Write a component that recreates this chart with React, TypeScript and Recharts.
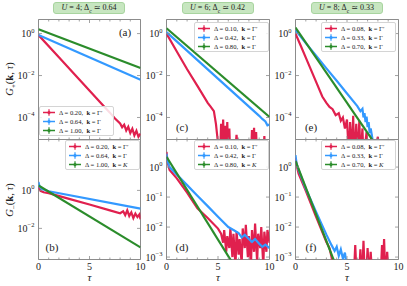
import React from "react";
import { LineChart, Line, XAxis, YAxis, Legend, ReferenceArea } from "recharts";

const RED = "#e0204e";
const BLUE = "#3399ff";
const GREEN = "#2b8c2b";
const AX = "#8c8c8c";
const FONT = "'Liberation Serif', 'DejaVu Serif', serif";

// axes
const tauTicks = [0, 1, 2, 3, 4, 5, 6, 7, 8, 9, 10];
const tauLabels = [0, 5, 10];
const topTicks = [1e-4, 1e-2, 1];
const bTicks = [1e-2, 1];
const dfTicks = [1e-3, 1e-2, 1e-1, 1];
const topDomain = [8.9e-6, 4.7];
const bDomain = [2.3e-4, 479];
const dfDomain = [8.3e-4, 8.3];

// titles
const titleU = ["4", "6", "8"];
const titleDc = ["0.64", "0.42", "0.33"];

// legend entries
const deltaU4 = ["0.20", "0.64", "1.00"];
const deltaU6 = ["0.10", "0.42", "0.80"];
const deltaU8 = ["0.08", "0.33", "0.70"];
const kPlus = ["Γ′", "Γ", "Γ"];
const kMinus = ["Γ′", "Γ", "K"];

// (a) U=4, G+
const aRedTau = [0, 2, 4, 6, 7, 7.5, 8, 8.2, 8.4, 8.6, 8.8, 9, 9.2, 9.4, 9.6, 9.8, 10];
const aRedG = [0.85, 7.4e-2, 6.5e-3, 5.6e-4, 1.7e-4, 9.0e-5, 5.2e-5, 3.4e-5, 4.5e-5, 2.4e-5, 3.6e-5, 1.8e-5, 2.9e-5, 1.4e-5, 2.3e-5, 1.2e-5, 1.7e-5];
const aBlueTau = [0, 10];
const aBlueG = [0.85, 6.3e-3];
const aGreenTau = [0, 10];
const aGreenG = [1.6, 2.3e-2];

// (b) U=4, G-
const bRedTau = [0, 0.2, 0.5, 1, 3, 5, 7, 8, 8.3, 8.5, 8.7, 8.9, 9.1, 9.3, 9.5, 9.7, 9.9, 10];
const bRedG = [1.5, 0.95, 0.8, 0.72, 0.36, 0.18, 0.089, 0.063, 0.08, 0.05, 0.09, 0.045, 0.07, 0.035, 0.06, 0.04, 0.055, 0.03];
const bBlueTau = [0, 0.1, 0.3, 1, 10];
const bBlueG = [2.8, 1.6, 1.2, 0.9, 0.11];
const bGreenTau = [0, 10];
const bGreenG = [1.8, 1.0e-3];

// (c) U=6, G+
const cRedTau = [0, 1, 2, 3, 4, 4.3, 4.6, 4.8, 5.0, 5.2, 5.3, 5.4, 5.5, 5.6, 5.7, 5.8, 5.9, 6.0, 6.1, 6.2, 6.6, 6.8, 7.0, 8.2, 8.3, 8.4, 8.5, 8.6, 8.7, 8.8, 9.4, 9.5, 9.6, 10];
const cRedG = [1.0, 0.14, 2.0e-2, 3.2e-3, 5.0e-4, 3.2e-4, 2.0e-4, 5.0e-5, 6e-6, 1e-6, 5e-5, 2e-6, 8e-5, 1e-6, 4e-5, 1e-6, 6e-5, 1e-6, 3e-5, 1e-6, 1e-6, 1.5e-5, 1e-6, 1e-6, 2.5e-5, 1e-6, 3.2e-5, 1e-6, 2e-5, 1e-6, 1e-6, 1.3e-5, 1e-6, 1e-6];
const cBlueTau = [0, 9, 9.3, 9.6, 9.8, 10];
const cBlueG = [1.17, 1.2e-4, 8.5e-5, 6.5e-5, 4.2e-5, 4.6e-5];
const cGreenTau = [0, 10];
const cGreenG = [1.8, 1.05e-4];

// (d) U=6, G-
const dRedTau = [0, 0.1, 0.3, 1, 2, 3, 4, 5, 5.3, 5.5, 5.6, 5.8, 5.9, 6.1, 6.2, 6.4, 6.5, 6.7, 6.8, 7.0, 7.1, 7.3, 7.4, 7.6, 7.7, 7.9, 8.0, 8.2, 8.3, 8.5, 8.6, 8.8, 8.9, 9.1, 9.2, 9.4, 9.5, 9.7, 9.8, 10];
const dRedG = [3.2, 1.5, 0.8, 0.42, 0.14, 4.2e-2, 2.0e-2, 8.9e-3, 6e-3, 3e-3, 8e-3, 1.5e-3, 5e-3, 2e-3, 9e-3, 1e-3, 6e-3, 5e-4, 7e-3, 1.2e-3, 4e-3, 6e-4, 9e-3, 2e-3, 1.2e-2, 1e-3, 5e-3, 5e-4, 8e-3, 1.5e-3, 1.3e-2, 7e-4, 6e-3, 2e-3, 1e-2, 5e-4, 7e-3, 1.5e-3, 8e-3, 3e-3];
const dBlueTau = [0, 0.1, 0.3, 1, 2, 3, 4, 5, 6, 6.5, 7, 7.3, 7.6, 8, 8.3, 8.6, 9, 9.3, 9.6, 10];
const dBlueG = [2.8, 1.6, 1.0, 0.56, 0.25, 0.11, 5.0e-2, 2.2e-2, 1.0e-2, 8e-3, 6.3e-3, 4.5e-3, 5.5e-3, 4.0e-3, 3.2e-3, 4.0e-3, 2.8e-3, 2.2e-3, 2.6e-3, 2.0e-3];
const dGreenTau = [0, 7];
const dGreenG = [2.2, 3.0e-4];

// (e) U=8, G+
const eRedTau = [0, 0.5, 1, 2, 2.6, 3, 3.3, 3.6, 3.9, 4.2, 4.4, 4.6, 4.8, 5.0, 5.2, 5.3, 5.5, 5.6, 5.7, 5.9, 6.0, 6.2, 6.3, 6.5, 6.6, 6.9, 7.0, 7.4, 7.5, 8.0, 8.1];
const eRedG = [1.0, 0.27, 7.1e-2, 5.0e-3, 1.0e-3, 5.0e-4, 3.2e-4, 2.5e-4, 1.3e-4, 1.6e-4, 7e-5, 1e-4, 3e-5, 8e-5, 1e-6, 6e-5, 2e-6, 1.2e-4, 1e-6, 5e-5, 1e-6, 7e-5, 1e-6, 3e-5, 1e-6, 2e-5, 1e-6, 1.5e-5, 1e-6, 1.2e-5, 1e-6];
const eBlueTau = [0, 1, 2, 3, 4, 5, 6, 6.3, 6.5, 6.6, 6.7, 6.8, 6.9, 7.0, 7.1, 7.2, 7.3, 7.5, 7.6];
const eBlueG = [1.45, 0.35, 8.9e-2, 2.2e-2, 5.6e-3, 1.4e-3, 3.5e-4, 2.0e-4, 2.6e-4, 1.0e-4, 1.6e-4, 6e-5, 1.1e-4, 3.5e-5, 6e-5, 1.8e-5, 3e-5, 8e-6, 2e-6];
const eGreenTau = [0, 8];
const eGreenG = [1.95, 3.5e-6];

// (f) U=8, G-
const fRedTau = [0, 0.1, 0.3, 1, 2, 3, 3.3, 3.5, 3.7, 5.7, 5.8, 5.9, 6.2, 6.3, 6.4, 6.5, 6.6, 6.7, 6.9, 7.0, 7.1, 7.2, 7.3, 7.4, 8.3, 8.4, 8.5, 8.6, 8.7, 8.8, 8.9, 9.0];
const fRedG = [2.0, 1.2, 0.6, 0.16, 2.2e-2, 3.2e-3, 2.0e-3, 1.0e-3, 4e-4, 4e-4, 2.5e-3, 4e-4, 4e-4, 1.8e-3, 4e-4, 4e-4, 3.5e-3, 4e-4, 4e-4, 2.0e-3, 4e-4, 4e-4, 1.5e-3, 4e-4, 4e-4, 2.5e-3, 4e-4, 4e-3, 4e-4, 4e-4, 1.5e-3, 4e-4];
const fBlueTau = [0, 0.1, 0.3, 1, 2, 3, 3.5, 3.8, 4.0, 4.2, 4.4, 4.6, 4.8, 5.0];
const fBlueG = [2.5, 1.3, 0.8, 0.19, 3.2e-2, 5.6e-3, 2.5e-3, 1.6e-3, 2.2e-3, 1.1e-3, 1.8e-3, 9e-4, 1.4e-3, 4e-4];
const fGreenTau = [0, 4];
const fGreenG = [1.6, 4.4e-4];

const pts = (t: number[], g: number[]) => t.map((x, i) => ({ t: x, g: g[i] }));

// layout
const COLS = [38, 166, 295];
const WIDTHS = [102, 103, 103];
const ROWS = [19, 139];
const PH = 120;
const COLORS = [RED, BLUE, GREEN];

const panels = [
  { tag: "(a)", col: 0, row: 0, domain: topDomain, ticks: topTicks, deltas: deltaU4, ks: kPlus,
    lines: [pts(aRedTau, aRedG), pts(aBlueTau, aBlueG), pts(aGreenTau, aGreenG)], leg: [39, 106], tagAt: [125, 32] },
  { tag: "(b)", col: 0, row: 1, domain: bDomain, ticks: bTicks, deltas: deltaU4, ks: kMinus,
    lines: [pts(bRedTau, bRedG), pts(bBlueTau, bBlueG), pts(bGreenTau, bGreenG)], leg: [65, 140], tagAt: [52, 247] },
  { tag: "(c)", col: 1, row: 0, domain: topDomain, ticks: topTicks, deltas: deltaU6, ks: kPlus,
    lines: [pts(cRedTau, cRedG), pts(cBlueTau, cBlueG), pts(cGreenTau, cGreenG)], leg: [194, 22], tagAt: [182, 127] },
  { tag: "(d)", col: 1, row: 1, domain: dfDomain, ticks: dfTicks, deltas: deltaU6, ks: kMinus,
    lines: [pts(dRedTau, dRedG), pts(dBlueTau, dBlueG), pts(dGreenTau, dGreenG)], leg: [194, 140], tagAt: [182, 247] },
  { tag: "(e)", col: 2, row: 0, domain: topDomain, ticks: topTicks, deltas: deltaU8, ks: kPlus,
    lines: [pts(eRedTau, eRedG), pts(eBlueTau, eBlueG), pts(eGreenTau, eGreenG)], leg: [321, 22], tagAt: [311, 127] },
  { tag: "(f)", col: 2, row: 1, domain: dfDomain, ticks: dfTicks, deltas: deltaU8, ks: kMinus,
    lines: [pts(fRedTau, fRedG), pts(fBlueTau, fBlueG), pts(fGreenTau, fGreenG)], leg: [321, 140], tagAt: [311, 247] },
];

function LegendBox({ deltas, ks }: { deltas: string[]; ks: string[] }) {
  return (
    <div
      style={{
        width: 75, height: 30, boxSizing: "border-box", background: "rgba(255,255,255,0.85)",
        border: "1px solid #d4d4d4", borderRadius: 2, padding: "1.5px 0 0 2px",
        fontFamily: FONT, fontSize: 6.6, color: "#222",
      }}
    >
      {deltas.map((d, i) => (
        <div key={i} style={{ display: "flex", alignItems: "center", height: 8.8, whiteSpace: "nowrap" }}>
          <svg width={14} height={7}>
            <line x1={1} x2={13} y1={3.5} y2={3.5} stroke={COLORS[i]} strokeWidth={1.5} />
            <line x1={7} x2={7} y1={0.3} y2={6.7} stroke={COLORS[i]} strokeWidth={1.2} />
            <circle cx={7} cy={3.5} r={1.6} fill={COLORS[i]} />
          </svg>
          <span style={{ marginLeft: 3 }}>
            Δ = {d},&nbsp;&nbsp;<b>k</b> = {ks[i] === "K" ? <i>K</i> : ks[i]}
          </span>
        </div>
      ))}
    </div>
  );
}

function Panel(p: any) {
  const px = COLS[p.col];
  const py = ROWS[p.row];
  const w = WIDTHS[p.col];
  const bottom = p.row === 1;
  const left = px - 32;
  const top = py - 2;

  const xTick = (t: any) => {
    const { x, y, payload } = t;
    const major = payload.value % 5 === 0;
    const len = major ? 3.5 : 2;
    return (
      <g>
        <line x1={x} x2={x} y1={y} y2={y - len} stroke={AX} strokeWidth={0.8} />
        <line x1={x} x2={x} y1={y - PH} y2={y - PH + len} stroke={AX} strokeWidth={0.8} />
        {bottom && tauLabels.includes(payload.value) && (
          <text x={x} y={y + 10.5} textAnchor="middle" fontSize={10} fontFamily={FONT} fill="#222">
            {payload.value}
          </text>
        )}
      </g>
    );
  };

  const yTick = (t: any) => {
    const { x, y, payload } = t;
    const e = Math.round(Math.log10(payload.value));
    return (
      <g>
        <line x1={x} x2={x + 3.5} y1={y} y2={y} stroke={AX} strokeWidth={0.8} />
        <line x1={x + w} x2={x + w - 3.5} y1={y} y2={y} stroke={AX} strokeWidth={0.8} />
        <text x={x - 4} y={y + 3.5} textAnchor="end" fontSize={10} fontFamily={FONT} fill="#222">
          10<tspan dy={-4.5} fontSize={6.5}>{e < 0 ? "−" + -e : e}</tspan>
        </text>
      </g>
    );
  };

  return (
    <div style={{ position: "absolute", left, top }}>
      <LineChart width={w + 40.5} height={bottom ? 145 : 125} margin={{ top: 2.5, right: 8, bottom: 0.5, left: 0 }}>
        <XAxis
          dataKey="t" type="number" domain={[0, 10]} allowDataOverflow ticks={tauTicks} interval={0}
          tickSize={0} tickMargin={0} axisLine={false} tickLine={false} tick={xTick} height={bottom ? 22 : 2}
          label={bottom ? { value: "τ", position: "insideBottom", offset: 1, style: { fontStyle: "italic", fontSize: 11, fontFamily: FONT, fill: "#222" } } : undefined}
        />
        <YAxis
          type="number" scale="log" domain={p.domain} allowDataOverflow ticks={p.ticks} interval={0}
          tickSize={0} tickMargin={0} axisLine={false} tickLine={false} tick={yTick} width={32.5}
        />
        <ReferenceArea x1={0} x2={10} y1={p.domain[0]} y2={p.domain[1]} fill="none" stroke={AX} strokeWidth={1} ifOverflow="visible" />
        {p.lines.map((d: any, i: number) => (
          <Line key={i} data={d} dataKey="g" type="linear" dot={false} stroke={COLORS[i]} strokeWidth={2.2} isAnimationActive={false} />
        ))}
        <Legend
          layout="horizontal" verticalAlign="middle" align="center"
          wrapperStyle={{ left: p.leg[0] - left, top: p.leg[1] - top, width: 75, height: 30 }}
          content={() => <LegendBox deltas={p.deltas} ks={p.ks} />}
        />
      </LineChart>
    </div>
  );
}

export default function App() {
  return (
    <div style={{ position: "absolute", left: 0, top: 0, width: 407, height: 286, background: "#fff", fontFamily: FONT, color: "#222" }}>
      {titleU.map((u, i) => (
        <div
          key={i}
          style={{
            position: "absolute", left: COLS[i] + WIDTHS[i] / 2 - 36, top: 2, width: 72, height: 12,
            boxSizing: "border-box", background: "#c7e6c0", border: "1px solid #a8d49f", borderRadius: 3,
            fontSize: 8, lineHeight: "10px", textAlign: "center", whiteSpace: "nowrap",
          }}
        >
          <i>U</i> = {u}; Δ<sub style={{ fontSize: 5.5 }}>c</sub> ≃ {titleDc[i]}
        </div>
      ))}
      {panels.map((p, i) => (
        <Panel key={i} {...p} />
      ))}
      {panels.map((p, i) => (
        <div key={"t" + i} style={{ position: "absolute", left: p.tagAt[0], top: p.tagAt[1], transform: "translate(-50%,-50%)", fontSize: 11, whiteSpace: "nowrap" }}>
          {p.tag}
        </div>
      ))}
      {[["+", 79], ["−", 200]].map(([s, cy], i) => (
        <div
          key={"y" + i}
          style={{
            position: "absolute", left: -20, top: (cy as number) - 7, width: 60, height: 14, lineHeight: "14px",
            textAlign: "center", transform: "rotate(-90deg)", fontSize: 10.5, whiteSpace: "nowrap",
          }}
        >
          <i>G</i><sub style={{ fontSize: 7 }}>{s}</sub>(<b>k</b>, <i>τ</i>)
        </div>
      ))}
    </div>
  );
}
